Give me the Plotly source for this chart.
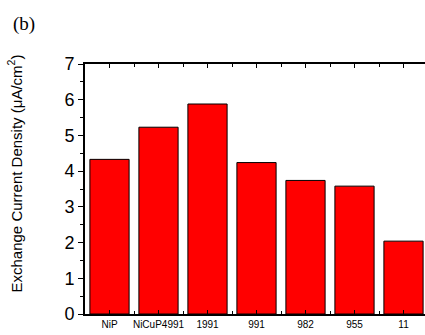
import plotly.graph_objects as go

categories = ["NiP", "NiCuP4991", "1991", "991", "982", "955", "11"]
values = [4.33, 5.23, 5.88, 4.24, 3.74, 3.58, 2.04]
y_ticks = [0, 1, 2, 3, 4, 5, 6, 7]

positions = list(range(1, len(categories) + 1))

fig = go.Figure()
fig.add_trace(go.Bar(
    x=positions, y=values, width=0.8,
    marker=dict(color="#FF0000", line=dict(color="#000000", width=1)),
    showlegend=False,
))

L, R, T, B = 85, 0, 64, 21
W, H = 425, 335
pw = W - L - R
ph = H - T - B

fig.update_layout(
    width=W, height=H,
    margin=dict(l=L, r=R, t=T, b=B),
    paper_bgcolor="white", plot_bgcolor="white",
    bargap=0.2,
    xaxis=dict(
        range=[0.5, 0.5 + pw / 49.0],
        tickmode="array", tickvals=positions, ticktext=categories,
        ticks="inside", ticklen=4, tickwidth=1, tickcolor="black",
        minor=dict(dtick=0.5, ticks="inside", ticklen=3, tickcolor="black", tick0=0.5),
        showline=True, linecolor="black", linewidth=2, mirror="ticks",
        showgrid=False, zeroline=False,
        tickfont=dict(family="Arial, Liberation Sans", size=10, color="black"),
    ),
    yaxis=dict(
        range=[0, 7],
        tickmode="array", tickvals=y_ticks,
        ticks="outside", ticklen=5, tickwidth=1, tickcolor="black",
        minor=dict(dtick=0.5, ticks="outside", ticklen=3, tickcolor="black"),
        showline=True, linecolor="black", linewidth=2, mirror=False,
        showgrid=False, zeroline=False,
        tickfont=dict(family="Arial, Liberation Sans", size=18, color="black"),
    ),
)

fig.add_annotation(
    text="Exchange Current Density (μA/cm<sup>2</sup>)",
    xref="paper", yref="paper",
    x=(15 - L) / pw, y=(H - B - 173.5) / ph,
    textangle=-90, showarrow=False,
    font=dict(family="Arial, Liberation Sans", size=15, color="black"),
    xanchor="center", yanchor="middle",
)
fig.add_annotation(
    text="(b)",
    xref="paper", yref="paper",
    x=(24 - L) / pw, y=(H - B - 24) / ph,
    showarrow=False,
    font=dict(family="Times New Roman, Liberation Serif", size=19, color="black"),
    xanchor="center", yanchor="middle",
)

fig.write_html("out.html")
